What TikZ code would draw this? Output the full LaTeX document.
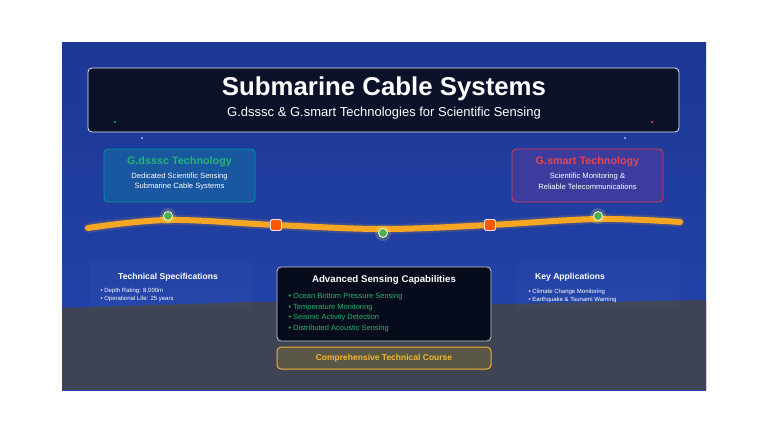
\documentclass[tikz,border=0pt]{standalone}
\usepackage{fontspec}
\setmainfont{Liberation Sans}
\definecolor{seatop}{HTML}{1C3794}
\definecolor{seabot}{HTML}{2446AE}
\definecolor{floor}{HTML}{3E4454}
\definecolor{navy}{HTML}{0A1128}
\definecolor{gteal}{HTML}{22B573}
\definecolor{gred}{HTML}{E8454F}
\definecolor{cablec}{HTML}{F5A623}
\definecolor{gold}{HTML}{F0B830}
\definecolor{coursefill}{HTML}{5B5747}
\definecolor{leafc}{HTML}{4CAF50}
\begin{document}
\begin{tikzpicture}[x=1pt,y=-1pt,line join=round,line cap=round,font=\sffamily,
 card/.style={draw,rounded corners=4pt,line width=0.8pt,inner sep=0pt},
 head/.style={font=\bfseries\fontsize{#1}{#1}\selectfont},
 small/.style={font=\fontsize{#1}{#1}\selectfont,text=white},
 item/.style={anchor=west,font=\fontsize{#1}{#1}\selectfont,text=white},
 sensor/.style={circle,minimum size=9pt,inner sep=0pt,fill=leafc,draw=yellow!15,line width=0.8pt},
 joint/.style={rectangle,rounded corners=1.5pt,minimum size=11pt,inner sep=0pt,fill=orange!70!red,draw=red!12,line width=0.8pt},
 spark/.style={circle,inner sep=0pt,minimum size=2.5pt}]
\useasboundingbox (0,0) rectangle (768,432);
\fill[white] (0,0) rectangle (768,432);
% sea and floor
\shade[top color=seatop,bottom color=seabot] (62,42) rectangle (706,390);
\fill[floor] (62,308)--(250,302)--(500,304)--(706,300)--(706,390)--(62,390)--cycle;
\fill[white,opacity=0.02] (90,262) rectangle (252,310) (517,262) rectangle (679,310);
% title
\node[card,fill=navy,draw=blue!10,minimum width=591pt,minimum height=64pt] (titlebox) at (383.5,100) {};
\node[head=25.8,text=white] (title) at (384,89) {Submarine Cable Systems};
\node[small=13] (subtitle) at (384,113) {G.dsssc \& G.smart Technologies for Scientific Sensing};
\node[spark,fill=teal!70!green] (s1) at (115,122) {};
\node[spark,fill=blue!20,minimum size=2pt] (s2) at (142,138) {};
\node[spark,fill=gred] (s3) at (652,122) {};
\node[spark,fill=blue!20,minimum size=2pt] (s4) at (625,138) {};
% technologies
\node[card,fill=teal!30!seabot,draw=teal!80!cyan,minimum width=151pt,minimum height=53pt] (dsssc) at (179.5,175.5) {};
\node[head=10.8,text=gteal] (dssscT) at (179.5,162) {G.dsssc Technology};
\node[small=7.6] (dsssc1) at (179.5,176.5) {Dedicated Scientific Sensing};
\node[small=7.6] (dsssc2) at (179.5,186.5) {Submarine Cable Systems};
\node[card,fill=purple!15!seabot,draw=gred!85!purple,minimum width=151pt,minimum height=53pt] (smart) at (587.5,175.5) {};
\node[head=10.8,text=gred] (smartT) at (587.5,162) {G.smart Technology};
\node[small=7.6] (smart1) at (587.5,176.5) {Scientific Monitoring \&};
\node[small=7.6] (smart2) at (587.5,186.5) {Reliable Telecommunications};
% cable
\draw[cablec,opacity=0.15,line width=10pt] plot[smooth,tension=0.6] coordinates {(88,228) (168,220) (276,225) (383,229) (490,225) (598,219) (680,222)};
\draw[cablec,line width=6pt] plot[smooth,tension=0.6] coordinates {(88,228) (168,220) (276,225) (383,229) (490,225) (598,219) (680,222)};
\foreach \p in {(168,216),(383,233),(598,216)} \fill[yellow!60,opacity=0.18] \p circle (8);
\node[sensor] (g1) at (168,216) {};
\node[sensor] (g2) at (383,233) {};
\node[sensor] (g3) at (598,216) {};
\node[joint] (r1) at (276,225) {};
\node[joint] (r2) at (490,225) {};
% specifications
\node[head=8.6,text=white] (specT) at (168,277.5) {Technical Specifications};
\node[item=6] (spec1) at (97,290.5) {• Depth Rating: 8,000m};
\node[item=6] (spec2) at (97,299) {• Operational Life: 25 years};
% sensing
\node[card,fill=navy!70!black,draw=blue!5!gray!40,minimum width=214pt,minimum height=74pt] (sense) at (384,304) {};
\node[head=9.7,text=white] (senseT) at (384,280.5) {Advanced Sensing Capabilities};
\foreach \t [count=\i] in {Ocean Bottom Pressure Sensing,Temperature Monitoring,Seismic Activity Detection,Distributed Acoustic Sensing}
  \node[item=7.5,text=gteal] (sense\i) at (285,{286.5+10.5*\i}) {• \t};
\node[card,fill=coursefill,draw=gold!90!orange,line width=1pt,minimum width=214pt,minimum height=22pt] (course) at (384,358) {};
\node[head=8.5,text=gold] (courseT) at (384,358) {Comprehensive Technical Course};
% applications
\node[head=8.6,text=white] (appT) at (570,277.5) {Key Applications};
\node[item=6] (app1) at (525,292) {• Climate Change Monitoring};
\node[item=6] (app2) at (525,300) {• Earthquake \& Tsunami Warning};
\end{tikzpicture}
\end{document}
